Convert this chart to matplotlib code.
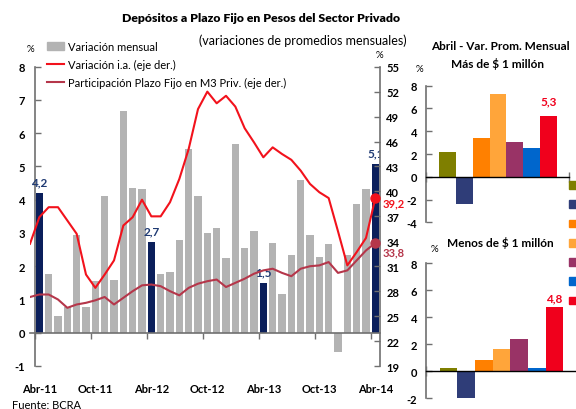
import matplotlib
matplotlib.use("Agg")
import matplotlib.pyplot as plt
import matplotlib.patches as mpatches
from matplotlib.lines import Line2D
import numpy as np

plt.rcParams['font.family'] = ['Lato', 'DejaVu Sans']
plt.rcParams['axes.unicode_minus'] = False

# ---------------- data ----------------
mes_abrev = ["Ene", "Feb", "Mar", "Abr", "May", "Jun", "Jul", "Ago", "Sep", "Oct", "Nov", "Dic"]

# monthly bars: Abr-11 .. Abr-14
var_mensual = [4.2, 1.78, 0.51, 0.77, 2.95, 0.76, 1.55, 4.12, 1.6, 6.67, 4.36, 4.31,
               2.74, 1.76, 1.82, 2.8, 5.53, 4.12, 3.01, 3.16, 2.26, 5.68, 2.56, 3.07,
               1.51, 2.71, 1.18, 2.33, 4.6, 2.93, 2.29, 2.68, -0.59, 2.35, 3.88, 4.33,
               5.07]

# lines (right axis): Mar-11 .. Abr-14
var_ia = [33.7, 36.9, 38.1, 38.1, 36.5, 34.9, 30.0, 28.4, 30.0, 31.7, 35.9, 36.9,
          39.0, 37.0, 37.0, 38.7, 41.5, 45.1, 49.9, 52.0, 50.6, 51.5, 50.2, 47.6,
          45.9, 44.1, 45.3, 44.5, 43.8, 42.5, 40.9, 39.9, 39.2, 35.2, 31.1, 32.7,
          34.4, 39.2]
part_pf = [27.3, 27.6, 27.6, 27.0, 26.0, 26.4, 26.6, 26.9, 27.3, 26.4, 27.2, 28.0,
           28.7, 28.8, 28.6, 28.0, 27.5, 28.4, 28.9, 29.2, 29.4, 28.5, 29.0, 29.5,
           30.1, 30.5, 30.7, 30.2, 29.8, 30.7, 31.0, 31.1, 31.5, 30.2, 30.5, 31.7,
           32.9, 33.8]

# small panels: April monthly variation by year
anios = ["2008", "2009", "2010", "2011", "2012", "2013", "2014"]
mas_1m = [2.17, -2.37, 3.39, 7.25, 3.02, 2.52, 5.3]
menos_1m = [0.25, -2.1, 0.84, 1.65, 2.4, 0.25, 4.8]
anio_colores = ["#7F7F00", "#2F3D78", "#FF8000", "#FFA53A", "#993366", "#0066CC", "#F0001C"]

# ---------------- derived ----------------
bar_months = []
y, m = 2011, 3
for _ in var_mensual:
    bar_months.append((mes_abrev[m], y))
    m += 1
    if m == 12:
        m, y = 0, y + 1
x_bar = np.arange(len(var_mensual))
x_line = np.arange(len(var_ia)) - 1  # first line point is Mar-11

GREY = "#B3B3B3"
NAVY = "#0B1F5B"
RED = "#F2121C"
DRED = "#B5364A"
SPINE = "#707070"

def fmt(v):
    return f"{v:.1f}".replace(".", ",")

fig = plt.figure(figsize=(5.76, 4.10), dpi=100)
W, H = 576.0, 410.0

# ---------------- main chart ----------------
ax = fig.add_axes([30 / W, 1 - 367 / H, 350 / W, (367 - 67.7) / H])
ax.set_xlim(-1, len(var_mensual) - 0.5)
ax.set_ylim(-1, 8)
bar_cols = [NAVY if mn == "Abr" else GREY for mn, _ in bar_months]
ax.bar(x_bar, var_mensual, width=0.78, color=bar_cols, zorder=2)

for xi, v, (mn, _) in zip(x_bar, var_mensual, bar_months):
    if mn == "Abr":
        ax.annotate(fmt(v), (xi, v), xytext=(0, 4), textcoords="offset points",
                    ha="center", va="bottom", color="#1F3A73", fontsize=8.5,
                    fontweight="bold", annotation_clip=False, clip_on=True, zorder=5)

ax.spines['top'].set_visible(False)
ax.spines['right'].set_visible(False)
ax.spines['left'].set_position(('data', -0.5))
ax.spines['bottom'].set_position(('data', 0))
for s in ('left', 'bottom'):
    ax.spines[s].set_color(SPINE)
    ax.spines[s].set_linewidth(1.2)
ax.set_yticks(np.arange(-1, 9, 1))
ax.tick_params(axis='y', direction='in', length=4, width=1, color=SPINE, pad=7,
               labelsize=8)
for t in ax.get_yticklabels():
    t.set_fontweight('bold')

major_x = [i - 0.5 for i, (mn, _) in enumerate(bar_months) if mn in ("Abr", "Oct")]
lab_x = [i for i, (mn, _) in enumerate(bar_months) if mn in ("Abr", "Oct")]
lab_t = [f"{mn}-{yy % 100}" for mn, yy in bar_months if mn in ("Abr", "Oct")]
ax.set_xticks(major_x)
ax.set_xticklabels([])
ax.set_xticks(lab_x, lab_t, minor=True)
ax.tick_params(axis='x', which='major', direction='out', length=4, width=1, color=SPINE)
ax.tick_params(axis='x', which='minor', length=0, pad=36, labelsize=8)
for t in ax.get_xticklabels(minor=True):
    t.set_fontweight('bold')

ax2 = ax.twinx()
ax2.set_ylim(19, 55)
for s in ('top', 'left', 'bottom'):
    ax2.spines[s].set_visible(False)
ax2.spines['right'].set_color(SPINE)
ax2.spines['right'].set_linewidth(1.2)
ax2.set_yticks(np.arange(19, 56, 3))
ax2.tick_params(axis='y', direction='in', length=4, width=1, color=SPINE, pad=4.5,
                labelsize=8)
for t in ax2.get_yticklabels():
    t.set_fontweight('bold')

ax2.plot(x_line, part_pf, color=DRED, lw=1.5, zorder=3)
ax2.plot(x_line, var_ia, color=RED, lw=1.5, zorder=4)
ax2.plot(x_line[-1], part_pf[-1], 'o', color=DRED, ms=6.5, zorder=5, clip_on=False)
ax2.plot(x_line[-1], var_ia[-1], 'o', color=RED, ms=6.5, zorder=5, clip_on=False)
ax2.annotate(fmt(var_ia[-1]), (x_line[-1], var_ia[-1]), xytext=(5, -3.5),
             textcoords="offset points", ha="left", va="center", color=RED,
             fontsize=8, fontweight="bold", annotation_clip=False)
ax2.annotate(fmt(part_pf[-1]), (x_line[-1], part_pf[-1]), xytext=(5, -6.5),
             textcoords="offset points", ha="left", va="center", color=DRED,
             fontsize=8, fontweight="bold", annotation_clip=False)

handles = [mpatches.Patch(color=GREY),
           Line2D([], [], color=RED, lw=1.5),
           Line2D([], [], color=DRED, lw=1.5)]
labels = ["Variación mensual", "Variación i.a. (eje der.)",
          "Participación Plazo Fijo en M3 Priv. (eje der.)"]
fig.legend(handles, labels, loc="upper left", bbox_to_anchor=(47 / W, 1 - 42 / H),
           frameon=False, fontsize=8, borderpad=0, borderaxespad=0,
           labelspacing=0.62, handlelength=1.5, handletextpad=0.4)

fig.text(261.5 / W, 1 - 18 / H, "Depósitos a Plazo Fijo en Pesos del Sector Privado",
         ha="center", va="center", fontsize=8.8, fontweight="heavy")
fig.text(407 / W, 1 - 41 / H, "(variaciones de promedios mensuales)",
         ha="right", va="center", fontsize=9)
fig.text(30 / W, 1 - 50 / H, "%", ha="center", va="center", fontsize=7)
fig.text(379 / W, 1 - 56 / H, "%", ha="center", va="center", fontsize=7)
fig.text(12 / W, 1 - 406 / H, "Fuente: BCRA", ha="left", va="center", fontsize=8)

# ---------------- small panels ----------------
def panel(rect, vals, ylim, title, pct_xy, lab_off):
    a = fig.add_axes(rect)
    a.set_xlim(-1.3, len(vals) + 0.25)
    a.set_ylim(*ylim)
    xs = np.arange(len(vals))
    a.bar(xs, vals, width=1.0, color=anio_colores, zorder=2)
    a.annotate(fmt(vals[-1]), (xs[-1], vals[-1]), xytext=(0, lab_off),
               textcoords="offset points", ha="center", va="bottom",
               color=anio_colores[-1], fontsize=8.5, fontweight="bold")
    a.spines['top'].set_visible(False)
    a.spines['right'].set_visible(False)
    a.spines['left'].set_color(SPINE)
    a.spines['left'].set_linewidth(1.2)
    a.spines['bottom'].set_position(('data', 0))
    a.spines['bottom'].set_color("black")
    a.spines['bottom'].set_linewidth(1.0)
    a.set_yticks(np.arange(ylim[0], ylim[1] + 1, 2))
    a.tick_params(axis='y', direction='in', length=4, width=1, color=SPINE, pad=6,
                  labelsize=8)
    for t in a.get_yticklabels():
        t.set_fontweight('bold')
    a.set_xticks(a.get_xlim())
    a.set_xticklabels([])
    a.tick_params(axis='x', direction='inout', length=7, width=1, color=SPINE)
    fig.text(pct_xy[0] / W, 1 - pct_xy[1] / H, "%", ha="center", va="center", fontsize=7)
    fig.text(title[1] / W, 1 - title[2] / H, title[0], ha="center", va="center",
             fontsize=8.5, fontweight="bold")
    return a

panel([425.7 / W, 1 - 223.3 / H, 143.6 / W, 136.6 / H], mas_1m, (-4, 8),
      ("Más de \\$ 1 millón", 497.5, 64), (419, 70), 7)
panel([425.7 / W, 1 - 399.3 / H, 151 / W, 135 / H], menos_1m, (-2, 8),
      ("Menos de \\$ 1 millón", 500.3, 243), (434, 250), 2)

fig.text(431 / W, 1 - 47 / H, "Abril - Var. Prom. Mensual", ha="left", va="center",
         fontsize=8.5, fontweight="bold")

yr_handles = [mpatches.Patch(color=c) for c in anio_colores]
fig.legend(yr_handles, anios, loc="upper left", bbox_to_anchor=(569 / W, 1 - 181 / H),
           frameon=False, fontsize=8, borderpad=0, borderaxespad=0,
           labelspacing=0.74, handlelength=1.0, handletextpad=0.5)

fig.savefig("out.png", dpi=100)
